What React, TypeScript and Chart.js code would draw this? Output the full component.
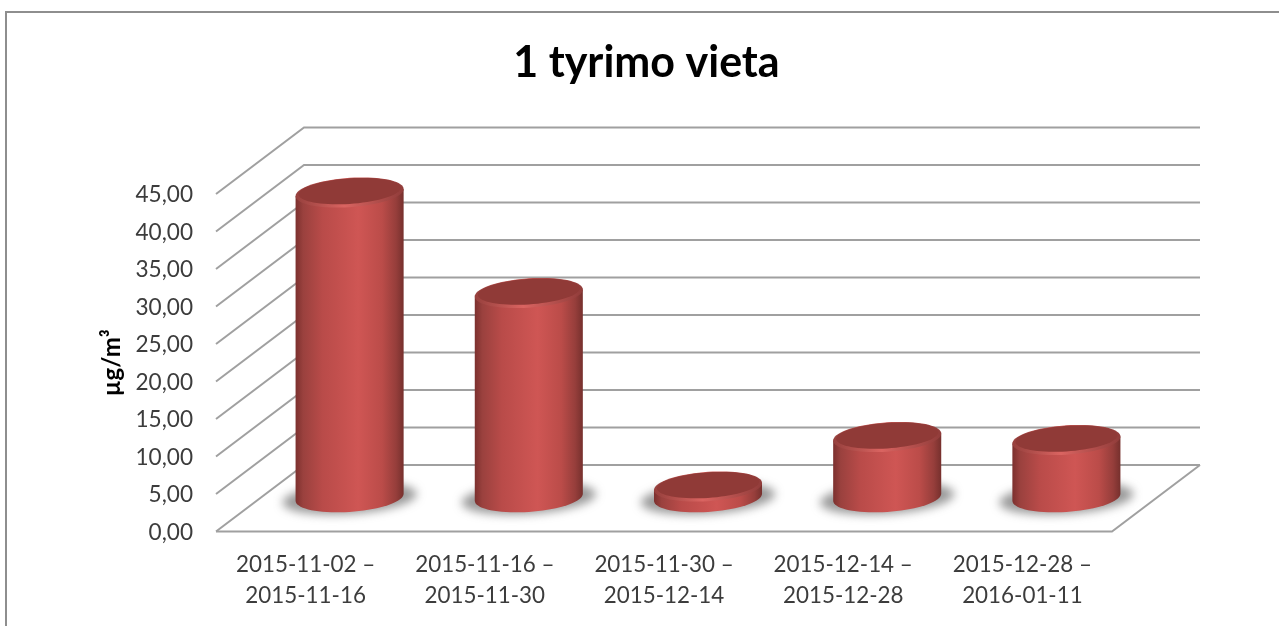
import React, { useEffect, useRef } from "react";
import { Chart, registerables } from "chart.js";

Chart.register(...registerables);

const titleText = "1 tyrimo vieta";
const axisTitle = "µg/m³";
const categories = [
  ["2015-11-02 –", "2015-11-16"],
  ["2015-11-16 –", "2015-11-30"],
  ["2015-11-30 –", "2015-12-14"],
  ["2015-12-14 –", "2015-12-28"],
  ["2015-12-28 –", "2016-01-11"],
];
const values = [40.9, 27.5, 1.7, 8.3, 7.9];
const yMax = 45;
const yStep = 5;

const DEPTH_X = 88;
const DEPTH_Y = -66.5;
const RY = 14.7;
const SHEAR = 0.065;
const FONT = "Lato, 'Open Sans', sans-serif";

function sheared(ctx: CanvasRenderingContext2D, cx: number, cy: number, rx: number, ry: number) {
  ctx.beginPath();
  const n = 72;
  for (let i = 0; i <= n; i++) {
    const t = (i / n) * Math.PI * 2;
    const x = rx * Math.cos(t);
    const y = ry * Math.sin(t) - SHEAR * x;
    if (i === 0) ctx.moveTo(cx + x, cy + y);
    else ctx.lineTo(cx + x, cy + y);
  }
  ctx.closePath();
}

function bodyGradient(ctx: CanvasRenderingContext2D, l: number, r: number) {
  const g = ctx.createLinearGradient(l, 0, r, 0);
  g.addColorStop(0, "#7c302e");
  g.addColorStop(0.07, "#9a413e");
  g.addColorStop(0.25, "#b94b49");
  g.addColorStop(0.58, "#cf5654");
  g.addColorStop(0.8, "#bb4c49");
  g.addColorStop(0.93, "#963e3b");
  g.addColorStop(1, "#76302d");
  return g;
}

const scenePlugin = {
  id: "scene",
  afterLayout(chart: any) {
    const t = chart.titleBlock;
    if (t) {
      t.left = 14;
      t.right = chart.width;
    }
  },
  beforeDraw(chart: any) {
    const ctx = chart.ctx as CanvasRenderingContext2D;
    ctx.save();
    ctx.fillStyle = "#ffffff";
    ctx.fillRect(0, 0, chart.width, chart.height);
    ctx.strokeStyle = "#8e8e8e";
    ctx.lineWidth = 2;
    ctx.beginPath();
    ctx.moveTo(6, chart.height);
    ctx.lineTo(6, 12);
    ctx.lineTo(chart.width, 12);
    ctx.stroke();
    ctx.restore();
  },
  beforeDatasetsDraw(chart: any) {
    const ctx = chart.ctx as CanvasRenderingContext2D;
    const { left, right } = chart.chartArea;
    const y = chart.scales.y;
    ctx.save();
    ctx.strokeStyle = "#a0a0a0";
    ctx.lineWidth = 2;
    ctx.lineJoin = "miter";
    y.ticks.forEach((tick: any) => {
      const py = y.getPixelForValue(tick.value);
      ctx.beginPath();
      ctx.moveTo(left, py);
      ctx.lineTo(left + DEPTH_X, py + DEPTH_Y);
      ctx.lineTo(right + DEPTH_X, py + DEPTH_Y);
      ctx.stroke();
    });
    const p0 = y.getPixelForValue(0);
    ctx.beginPath();
    ctx.moveTo(left, p0);
    ctx.lineTo(right, p0);
    ctx.lineTo(right + DEPTH_X, p0 + DEPTH_Y);
    ctx.stroke();
    ctx.restore();
  },
  beforeDatasetDraw() {
    return false;
  },
  afterDatasetsDraw(chart: any) {
    const ctx = chart.ctx as CanvasRenderingContext2D;
    const meta = chart.getDatasetMeta(0);
    meta.data.forEach((bar: any) => {
      const cx = bar.x + DEPTH_X / 2;
      const rx = bar.width / 2;
      const top = bar.y + DEPTH_Y / 2 + 1;
      const base = bar.base + DEPTH_Y / 2 - 1;
      const l = cx - rx;
      const r = cx + rx;

      ctx.save();
      ctx.filter = "blur(5px)";
      ctx.fillStyle = "rgba(90,90,90,0.62)";
      sheared(ctx, cx, base + 1, rx + 13, RY + 1);
      ctx.fill();
      ctx.restore();

      ctx.save();
      ctx.fillStyle = bodyGradient(ctx, l, r);
      ctx.beginPath();
      const n = 36;
      for (let i = 0; i <= n; i++) {
        const t = (i / n) * Math.PI;
        const x = rx * Math.cos(t);
        const py = base + RY * Math.sin(t) - SHEAR * x;
        if (i === 0) ctx.moveTo(cx + x, py);
        else ctx.lineTo(cx + x, py);
      }
      ctx.lineTo(l, top + SHEAR * rx);
      ctx.lineTo(r, top - SHEAR * rx);
      ctx.closePath();
      ctx.fill();

      const rim = ctx.createLinearGradient(l, 0, r, 0);
      rim.addColorStop(0, "#96403d");
      rim.addColorStop(0.45, "#da6461");
      rim.addColorStop(1, "#903c3a");
      ctx.fillStyle = rim;
      sheared(ctx, cx, top, rx, RY);
      ctx.fill();
      ctx.fillStyle = "#903a37";
      sheared(ctx, cx, top - 1.4, rx - 3, RY - 1.9);
      ctx.fill();
      ctx.restore();
    });
  },
};

export default function App() {
  const ref = useRef<HTMLCanvasElement | null>(null);
  useEffect(() => {
    if (!ref.current) return;
    const chart = new Chart(ref.current, {
      type: "bar",
      data: {
        labels: categories,
        datasets: [
          {
            label: titleText,
            data: values,
            backgroundColor: "#c0504d",
            categoryPercentage: 1,
            barPercentage: 0.603,
          },
        ],
      },
      options: {
        responsive: false,
        animation: false,
        layout: { padding: { left: 98, right: 167, top: 0, bottom: 0 } },
        plugins: {
          legend: { display: false },
          tooltip: { enabled: false },
          title: {
            display: true,
            text: titleText,
            color: "#000000",
            font: { family: FONT, size: 43, weight: "bold", lineHeight: 1.2 },
            padding: { top: 37, bottom: 105.4 },
          },
        },
        scales: {
          x: {
            grid: { display: false },
            border: { display: false },
            afterFit(s: any) {
              s.height = 94.5;
            },
            ticks: {
              color: "#3c3c3c",
              autoSkip: false,
              maxRotation: 0,
              minRotation: 0,
              padding: 10,
              font: { family: FONT, size: 22.4, lineHeight: 1.37 },
            },
          },
          y: {
            min: 0,
            max: yMax,
            grid: { display: false, drawTicks: false },
            border: { display: false },
            afterFit(s: any) {
              s.width = 118;
            },
            title: {
              display: true,
              text: axisTitle,
              color: "#000000",
              font: { family: FONT, size: 24, weight: "bold" },
              padding: { top: 0, bottom: 0 },
            },
            ticks: {
              stepSize: yStep,
              color: "#3c3c3c",
              padding: 23,
              labelOffset: 1,
              font: { family: FONT, size: 22.6 },
              callback: (v: any) => Number(v).toFixed(2).replace(".", ","),
            },
          },
        },
      },
      plugins: [scenePlugin],
    } as any);
    return () => chart.destroy();
  }, []);
  return (
    <div style={{ position: "absolute", left: 0, top: 0, width: 1279, height: 626, overflow: "hidden", background: "#fff" }}>
      <canvas ref={ref} width={1279} height={626} style={{ display: "block", filter: "blur(0.5px)" }} />
    </div>
  );
}
